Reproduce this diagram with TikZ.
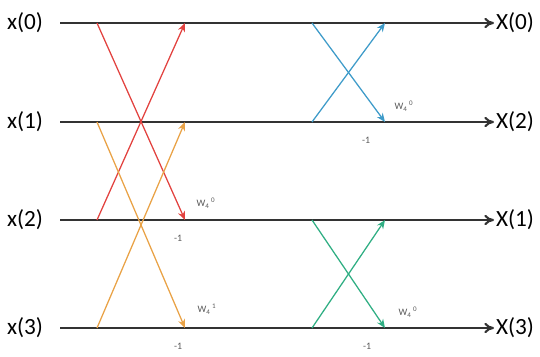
\documentclass[tikz,border=0pt]{standalone}
\usepackage{fontspec}
\setmainfont{Carlito}
\usetikzlibrary{arrows.meta, positioning}
\definecolor{cred}{HTML}{E2423F}
\definecolor{corange}{HTML}{E9A246}
\definecolor{cblue}{HTML}{3E9BC9}
\definecolor{cgreen}{HTML}{2FAE83}
\definecolor{cwire}{HTML}{333333}
\tikzset{
  every picture/.style={line width=1pt},
  lbl/.style={font=\fontsize{16.5}{18}\selectfont, inner sep=1pt},
  wire/.style={-{To[length=2.4mm, width=2.6mm]}, draw=cwire, line width=1.5pt},
  wing/.style={draw=#1, -{Stealth[length=2.2mm, width=1.8mm]}, line width=0.9pt},
  wing/.default=cred,
  tw/.style={font=\fontsize{7}{8}\selectfont, text=black!65, inner sep=1pt},
}
\newcommand{\twf}[1]{W\textsubscript{4}\,\textsuperscript{#1}}

\begin{document}
\begin{tikzpicture}[x=0.025cm, y=-0.025cm]
  \useasboundingbox (0,0) rectangle (540,356);
  % wires
  \foreach \i/\y/\o in {0/23/0, 1/122/2, 2/220/1, 3/328/3} {
    \node[lbl, anchor=east] (in\i) at (45,\y) {x(\i)};
    \node[lbl, anchor=west] (out\i) at (494,\y) {X(\o)};
    \coordinate (s\i) at (60,\y);
    \coordinate (a\i) at (97,\y);
    \coordinate (b\i) at (185,\y);
    \coordinate (c\i) at (312,\y);
    \coordinate (d\i) at (385,\y);
    \draw[wire] (s\i) -- (out\i.west);
  }
  % first stage
  \foreach \p/\q/\col in {0/2/cred, 1/3/corange} {
    \draw[wing=\col] (a\p) -- (b\q);
    \draw[wing=\col] (a\q) -- (b\p);
  }
  % second stage
  \foreach \p/\q/\col in {0/1/cblue, 2/3/cgreen} {
    \draw[wing=\col] (c\p) -- (d\q);
    \draw[wing=\col] (c\q) -- (d\p);
  }
  % twiddle factors
  \node[tw] (w2) at (206,203) {\twf{0}};
  \node[tw] (m2) at (178,238) {-1};
  \node[tw] (w3) at (207,309) {\twf{1}};
  \node[tw] (m3) at (178,346) {-1};
  \node[tw] (w1) at (404,106) {\twf{0}};
  \node[tw] (m1) at (366,140) {-1};
  \node[tw] (w4) at (408,312) {\twf{0}};
  \node[tw] (m4) at (367,346) {-1};
\end{tikzpicture}
\end{document}
